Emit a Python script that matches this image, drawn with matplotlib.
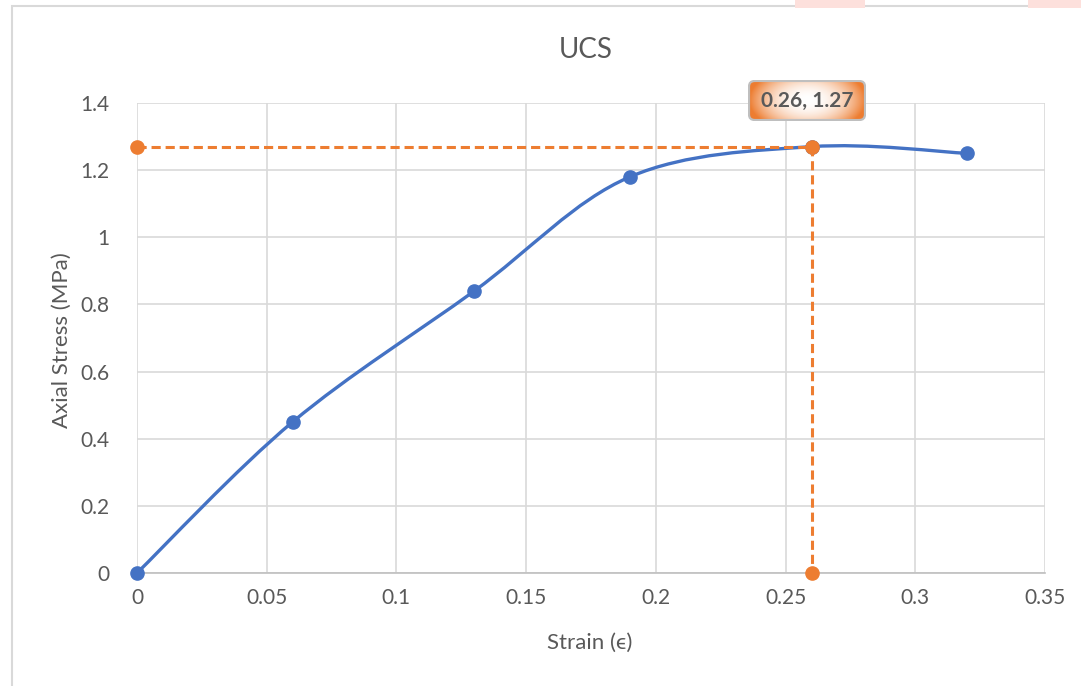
import numpy as np
import matplotlib
matplotlib.use("Agg")
import matplotlib.pyplot as plt
from matplotlib.path import Path
from matplotlib.patches import PathPatch, FancyBboxPatch, Rectangle
from matplotlib.ticker import FuncFormatter

# data
strain = [0, 0.06, 0.13, 0.19, 0.26, 0.32]
stress = [0, 0.45, 0.84, 1.18, 1.27, 1.25]
peak_x = 0.26
peak_y = 1.27
x_ticks = [0, 0.05, 0.1, 0.15, 0.2, 0.25, 0.3, 0.35]
y_ticks = [0, 0.2, 0.4, 0.6, 0.8, 1, 1.2, 1.4]

BLUE = "#4472C4"
ORANGE = "#ED7D31"
TEXT = "#595959"
GRID = "#D9D9D9"

plt.rcParams["font.family"] = ["Lato", "DejaVu Sans"]


def smooth_path(xs, ys, tension=1 / 6):
    # Excel-like smoothed line: cubic bezier segments (Catmull-Rom control points)
    pts = np.column_stack([xs, ys]).astype(float)
    n = len(pts)
    verts = [pts[0]]
    codes = [Path.MOVETO]
    for i in range(n - 1):
        p0 = pts[i - 1] if i > 0 else pts[i]
        p1 = pts[i]
        p2 = pts[i + 1]
        p3 = pts[i + 2] if i + 2 < n else pts[i + 1]
        c1 = p1 + (p2 - p0) * tension
        c2 = p2 - (p3 - p1) * tension
        verts += [c1, c2, p2]
        codes += [Path.CURVE4] * 3
    return Path(verts, codes)


fig = plt.figure(figsize=(10.81, 6.86), dpi=100)
fig.patch.set_facecolor("white")

# chart frame and cropped bits at the top
fig.add_artist(Rectangle((12 / 1081, -0.01), 1.1, 1 - 6 / 686 + 0.01, transform=fig.transFigure,
                         facecolor="none", edgecolor="#D9D9D9", lw=1.5))
fig.add_artist(Rectangle((795 / 1081, 1 - 8 / 686), 70 / 1081, 8 / 686, transform=fig.transFigure,
                         facecolor="#FDE0DC", edgecolor="none"))
fig.add_artist(Rectangle((1028 / 1081, 1 - 8 / 686), 60 / 1081, 8 / 686, transform=fig.transFigure,
                         facecolor="#FDE0DC", edgecolor="none"))

ax = fig.add_axes([137 / 1081, 113 / 686, 908 / 1081, 470 / 686])
ax.set_xlim(0, 0.35)
ax.set_ylim(0, 1.4)
ax.set_xticks(x_ticks)
ax.set_yticks(y_ticks)
fmt = FuncFormatter(lambda v, p: f"{v:g}")
ax.xaxis.set_major_formatter(fmt)
ax.yaxis.set_major_formatter(fmt)
ax.grid(True, color=GRID, lw=1.2)
ax.set_axisbelow(True)
for s in ["top", "right", "left"]:
    ax.spines[s].set_visible(False)
ax.spines["bottom"].set_color("#BFBFBF")
ax.spines["bottom"].set_linewidth(1.2)
ax.tick_params(length=0, labelsize=15, colors=TEXT, pad=11)
ax.tick_params(axis="y", pad=20)

# smoothed stress-strain curve
ax.add_patch(PathPatch(smooth_path(strain, stress), facecolor="none", edgecolor=BLUE, lw=2.4,
                       zorder=3))
ax.plot(strain, stress, "o", color=BLUE, ms=9.5, zorder=4, clip_on=False)

# peak guide lines
ax.plot([0, peak_x, peak_x], [peak_y, peak_y, 0], color=ORANGE, lw=2.2, ls=(0, (3, 1.6)),
        zorder=5, clip_on=False)
ax.plot([0, peak_x, peak_x], [peak_y, peak_y, 0], "o", color=ORANGE, ms=9.5, zorder=6,
        clip_on=False)

# data label box (pixel-unit axes above the peak point)
bw, bh = 118, 41
lab = fig.add_axes([748 / 1081, 1 - 121 / 686, bw / 1081, bh / 686])
lab.set_xlim(-1, bw + 1)
lab.set_ylim(-1, bh + 1)
lab.axis("off")
box = FancyBboxPatch((0, 0), bw, bh, boxstyle="round,pad=0,rounding_size=6",
                     facecolor="none", edgecolor="#BFBFBF", lw=1.6, zorder=3)
u, v = np.meshgrid(np.linspace(-1, 1, 240), np.linspace(-1, 1, 90))
t = np.clip(np.sqrt(u ** 2 + (v * 0.6) ** 2), 0, 1) ** 2.2
orange_rgb = np.array(matplotlib.colors.to_rgb(ORANGE))
img = (1 - t[..., None]) * 1.0 + t[..., None] * orange_rgb
im = lab.imshow(img, extent=[0, bw, 0, bh], aspect="auto", zorder=2)
lab.add_patch(box)
im.set_clip_path(box)
lab.set_xlim(-1, bw + 1)
lab.set_ylim(-1, bh + 1)
lab.text(bw / 2, bh / 2, f"{peak_x}, {peak_y}", ha="center", va="center",
         fontsize=15, fontweight="bold", color=TEXT, zorder=4)

fig.text(586 / 1081, 1 - 50 / 686, "UCS", ha="center", va="center", fontsize=20, color=TEXT)
fig.text(590 / 1081, 1 - 643 / 686, "Strain (ϵ)", ha="center", va="center", fontsize=16,
         color=TEXT)
fig.text(62 / 1081, 1 - 340 / 686, "Axial Stress (MPa)", ha="center", va="center", fontsize=16,
         color=TEXT, rotation=90)

fig.savefig("out.png", dpi=100)
